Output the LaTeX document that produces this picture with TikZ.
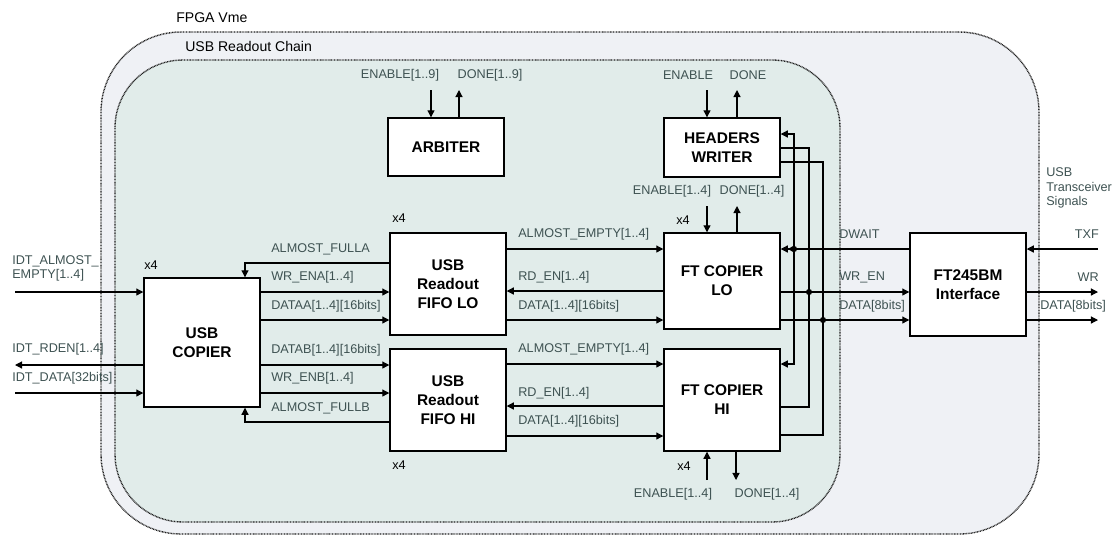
\documentclass[tikz,border=0pt]{standalone}
\usepackage{fontspec}
\setmainfont{Liberation Sans}
\usetikzlibrary{arrows.meta,positioning}
\definecolor{fpgafill}{RGB}{239,241,245}
\definecolor{chainfill}{RGB}{225,236,234}
\definecolor{sigtext}{RGB}{62,82,82}
\definecolor{dotline}{RGB}{30,30,30}

\begin{document}
\begin{tikzpicture}[x=0.025cm, y=-0.025cm,
    blk/.style={draw, line width=1pt, fill=white, minimum width=2.9cm, inner sep=0pt,
                align=center, font=\fontsize{11}{13.5}\selectfont\bfseries},
    sig/.style={line width=0.8pt, -{Triangle[length=5pt,width=5pt]}},
    wire/.style={line width=0.8pt},
    lbl/.style={inner sep=0pt, text=sigtext, font=\fontsize{9}{10.5}\selectfont},
    ttl/.style={inner sep=0pt, anchor=west, font=\fontsize{10}{12}\selectfont},
    region/.style={draw=dotline, line width=1pt, dash pattern=on 0.6pt off 0.5pt}]
    \useasboundingbox (0,0) rectangle (1117,535);

    % regions
    \draw[region, fill=fpgafill, rounded corners=2cm] (101,32) rectangle (1039,534);
    \draw[region, fill=chainfill, rounded corners=1.7cm] (115,60) rectangle (840,522);
    \node[ttl] (fpga) at (176,18) {FPGA Vme};
    \node[ttl] (chain) at (185,46) {USB Readout Chain};

    % blocks
    \node[blk, minimum height=1.45cm] (arbiter) at (446,147) {ARBITER};
    \node[blk, minimum height=1.475cm] (hdrw) at (722,147.5) {HEADERS\\WRITER};
    \node[blk, minimum height=3.225cm] (copier) at (202,342.5) {USB\\COPIER};
    \node[blk, minimum height=2.55cm] (fifolo) at (448,284) {USB\\Readout\\FIFO LO};
    \node[blk, minimum height=2.55cm] (fifohi) at (448,400) {USB\\Readout\\FIFO HI};
    \node[blk, minimum height=2.4cm] (ftlo) at (722,281) {FT COPIER\\LO};
    \node[blk, minimum height=2.55cm] (fthi) at (722,400) {FT COPIER\\HI};
    \node[blk, minimum height=2.575cm] (ft245) at (968,284.5) {FT245BM\\Interface};

    % IDT side
    \coordinate (idtae) at (15,292);
    \coordinate (idtrd) at (15,365);
    \coordinate (idtdt) at (15,393);
    \draw[sig] (idtae) -- (copier.west |- idtae);
    \draw[sig] (copier.west |- idtrd) -- (idtrd);
    \draw[sig] (idtdt) -- (copier.west |- idtdt);
    \node[lbl, anchor=west, align=left] (idtaelbl) at (12,268.5) {IDT\_ALMOST\_\\EMPTY[1..4]};
    \node[lbl, anchor=west] (idtrdlbl) at (12,349) {IDT\_RDEN[1..4]};
    \node[lbl, anchor=west] (idtdtlbl) at (12,378) {IDT\_DATA[32bits]};

    % copier <-> fifos
    \draw[sig] (fifolo.west |- 0,263) -| (245,0 |- copier.north);
    \draw[sig] (copier.east |- 0,292) -- (fifolo.west |- 0,292);
    \draw[sig] (copier.east |- 0,320) -- (fifolo.west |- 0,320);
    \draw[sig] (copier.east |- 0,365) -- (fifohi.west |- 0,365);
    \draw[sig] (copier.east |- 0,393) -- (fifohi.west |- 0,393);
    \draw[sig] (fifohi.west |- 0,422) -| (245,0 |- copier.south);
    \node[lbl, anchor=west] (afa) at (271,249) {ALMOST\_FULLA};
    \node[lbl, anchor=west] (wra) at (271,277) {WR\_ENA[1..4]};
    \node[lbl, anchor=west] (dta) at (271,306) {DATAA[1..4][16bits]};
    \node[lbl, anchor=west] (dtb) at (271,350) {DATAB[1..4][16bits]};
    \node[lbl, anchor=west] (wrb) at (271,378) {WR\_ENB[1..4]};
    \node[lbl, anchor=west] (afb) at (271,408) {ALMOST\_FULLB};

    % fifos <-> ft copiers
    \draw[sig] (fifolo.east |- 0,249) -- (ftlo.west |- 0,249);
    \draw[sig] (ftlo.west |- 0,291) -- (fifolo.east |- 0,291);
    \draw[sig] (fifolo.east |- 0,320) -- (ftlo.west |- 0,320);
    \draw[sig] (fifohi.east |- 0,364) -- (fthi.west |- 0,364);
    \draw[sig] (fthi.west |- 0,406) -- (fifohi.east |- 0,406);
    \draw[sig] (fifohi.east |- 0,436) -- (fthi.west |- 0,436);
    \node[lbl, anchor=west] (aelo) at (518,234) {ALMOST\_EMPTY[1..4]};
    \node[lbl, anchor=west] (rdlo) at (518,277) {RD\_EN[1..4]};
    \node[lbl, anchor=west] (dtlo) at (518,306) {DATA[1..4][16bits]};
    \node[lbl, anchor=west] (aehi) at (518,349) {ALMOST\_EMPTY[1..4]};
    \node[lbl, anchor=west] (rdhi) at (518,393) {RD\_EN[1..4]};
    \node[lbl, anchor=west] (dthi) at (518,421) {DATA[1..4][16bits]};

    % multiplicity
    \node[lbl, text=black, anchor=west] (x4cp) at (144,265) {x4};
    \node[lbl, text=black, anchor=west] (x4fl) at (392,218) {x4};
    \node[lbl, text=black, anchor=west] (x4fh) at (392,465) {x4};
    \node[lbl, text=black, anchor=west] (x4tl) at (676,220) {x4};
    \node[lbl, text=black, anchor=west] (x4th) at (677,466) {x4};

    % arbiter handshake
    \coordinate (arben) at (431,90);
    \coordinate (arbdn) at (459,90);
    \draw[sig] (arben) -- (arben |- arbiter.north);
    \draw[sig] (arbdn |- arbiter.north) -- (arbdn);
    \node[lbl] (arbenlbl) at (400,75) {ENABLE[1..9]};
    \node[lbl] (arbdnlbl) at (490,75) {DONE[1..9]};

    % headers writer handshake
    \coordinate (hwen) at (707,90);
    \coordinate (hwdn) at (737,90);
    \draw[sig] (hwen) -- (hwen |- hdrw.north);
    \draw[sig] (hwdn |- hdrw.north) -- (hwdn);
    \node[lbl] (hwenlbl) at (688,75) {ENABLE};
    \node[lbl] (hwdnlbl) at (748,75) {DONE};

    % ft copier handshakes
    \coordinate (loen) at (707,206);
    \coordinate (lodn) at (737,206);
    \draw[sig] (loen) -- (loen |- ftlo.north);
    \draw[sig] (lodn |- ftlo.north) -- (lodn);
    \node[lbl] (loenlbl) at (672,191) {ENABLE[1..4]};
    \node[lbl] (lodnlbl) at (752,191) {DONE[1..4]};
    \coordinate (hien) at (707,480);
    \coordinate (hidn) at (736,480);
    \draw[sig] (hien) -- (hien |- fthi.south);
    \draw[sig] (hidn |- fthi.south) -- (hidn);
    \node[lbl] (hienlbl) at (673,494) {ENABLE[1..4]};
    \node[lbl] (hidnlbl) at (767,494) {DONE[1..4]};

    % bus to FT245BM
    \coordinate (jdw) at (794,249);
    \coordinate (jwr) at (809,292);
    \coordinate (jdt) at (823,320);
    \draw[line width=0.8pt, -{Triangle[length=5pt,width=5pt]Triangle[length=5pt,width=5pt]}]
      (ft245.west |- jdw) -- (ftlo.east |- jdw);
    \draw[sig] (jdw) |- (hdrw.east |- 0,134);
    \draw[sig] (jdw) |- (fthi.east |- 0,364);
    \draw[wire] (hdrw.east |- 0,148) -| (jwr) |- (fthi.east |- 0,407);
    \draw[wire] (hdrw.east |- 0,162) -| (jdt) |- (fthi.east |- 0,435);
    \draw[sig] (ftlo.east |- jwr) -- (ft245.west |- jwr);
    \draw[sig] (ftlo.east |- jdt) -- (ft245.west |- jdt);
    \fill (jdw) circle (2.2pt);
    \fill (jwr) circle (2.2pt);
    \fill (jdt) circle (2.2pt);
    \node[lbl, anchor=west] (dwlbl) at (839,234) {DWAIT};
    \node[lbl, anchor=west] (wrlbl) at (839,277) {WR\_EN};
    \node[lbl, anchor=west] (dtlbl) at (839,306) {DATA[8bits]};

    % transceiver side
    \coordinate (txf) at (1098,249);
    \coordinate (wr) at (1098,292);
    \coordinate (dout) at (1098,320);
    \draw[sig] (txf) -- (ft245.east |- txf);
    \draw[sig] (ft245.east |- wr) -- (wr);
    \draw[sig] (ft245.east |- dout) -- (dout);
    \node[lbl, anchor=west, align=left] (usbts) at (1046,188) {USB\\Transceiver\\Signals};
    \node[lbl, anchor=east] (txflbl) at (1099,234) {TXF};
    \node[lbl, anchor=east] (wrolbl) at (1099,277) {WR};
    \node[lbl, anchor=west] (doutlbl) at (1040,306) {DATA[8bits]};
  \end{tikzpicture}
\end{document}
